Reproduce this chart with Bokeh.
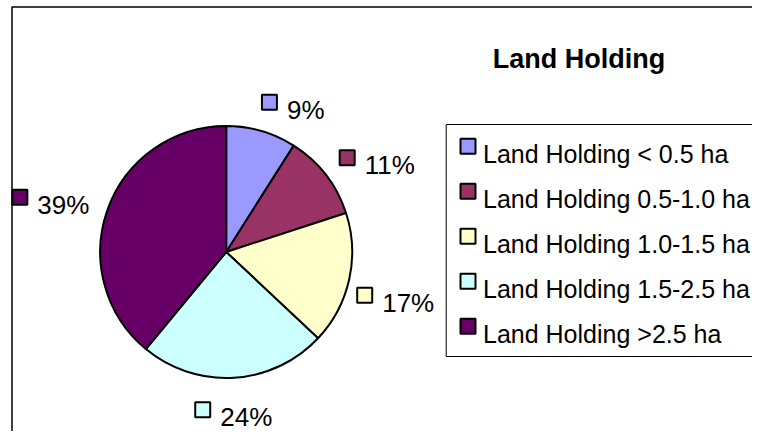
import math
from bokeh.plotting import figure
from bokeh.models import Range1d
from bokeh.embed import file_html
from bokeh.resources import INLINE
from bokeh.core.properties import value

# ---------------- data ----------------
title = "Land Holding"
categories = [
    "Land Holding < 0.5 ha",
    "Land Holding 0.5-1.0 ha",
    "Land Holding 1.0-1.5 ha",
    "Land Holding 1.5-2.5 ha",
    "Land Holding >2.5 ha",
]
shares = [9, 11, 17, 24, 39]
colors = ["#9999FF", "#993366", "#FFFFCC", "#CCFFFF", "#660066"]

# ---------------- layout (figure pixels, y measured downward) ----------------
W, H = 752, 431
FONT = "Liberation Sans"
FS = 26
LEG_FS = 25
CX, CY, R = 225.7, 251.5, 126.0
GAP = 17.0
SQ = 15.0
LABEL_TEXT_DX = 25.0
LABEL_NUDGE = [(22.2, 2.7), (10.9, 14.4), (-8.45, 3.2), (-2.6, 4.2), (-5.1, 6.2)]
LEG_LEFT, LEG_TOP, LEG_BOTTOM = 445.7, 124.0, 356.0
LEG_SQ_X, LEG_TEXT_X = 467.5, 482.5
LEG_BASE0, LEG_STEP = 153.3, 45.0
TITLE_X, TITLE_BASE = 578.5, 58.3
BORDER_X, BORDER_Y = 11.5, 6.5

CHAR_W = {**{str(d): 0.556 for d in range(10)}, "%": 0.889}


def Y(y):
    return H - y


p = figure(width=W, height=H, output_backend="svg", toolbar_location=None,
           x_range=Range1d(0, W), y_range=Range1d(0, H),
           min_border=0, min_border_left=0, min_border_right=0,
           min_border_top=0, min_border_bottom=0)
p.axis.visible = False
p.grid.visible = False
p.outline_line_color = None
p.background_fill_color = "white"
p.border_fill_color = "white"

# chart border (left + top visible, rest cropped in reference)
p.line(x=[BORDER_X, BORDER_X, W + 10], y=[-10, Y(BORDER_Y), Y(BORDER_Y)],
       line_color="black", line_width=1.5)

# pie
total = float(sum(shares))
cum = [0.0]
for s in shares:
    cum.append(cum[-1] + s / total)
starts = [math.pi / 2 - 2 * math.pi * c for c in cum[:-1]]
ends = [math.pi / 2 - 2 * math.pi * c for c in cum[1:]]
p.wedge(x=CX, y=Y(CY), radius=R, start_angle=starts, end_angle=ends,
        direction="clock", fill_color=colors, line_color="black", line_width=2)

# data labels
lab_texts = [f"{s}%" for s in shares]
sq_x, sq_y, tx, ty = [], [], [], []
for i, s in enumerate(shares):
    mid = 2 * math.pi * (cum[i] + cum[i + 1]) / 2
    sn, cs = math.sin(mid), math.cos(mid)
    tw = sum(CHAR_W[c] for c in lab_texts[i]) * 25.5
    w = LABEL_TEXT_DX + tw
    h = 16.0
    dist = R + GAP + abs(sn) * w / 2 + abs(cs) * h / 2
    cx = CX + dist * sn
    cy = CY - dist * cs
    left = cx - w / 2 + LABEL_NUDGE[i][0]
    base = cy + h / 2 + LABEL_NUDGE[i][1]
    sq_x.append(left + SQ / 2)
    sq_y.append(Y(base - SQ / 2))
    tx.append(left + LABEL_TEXT_DX)
    ty.append(Y(base))

p.rect(x=sq_x, y=sq_y, width=SQ, height=SQ, fill_color=colors,
       line_color="black", line_width=2)
p.text(x=tx, y=ty, text=lab_texts, text_font=value(FONT),
       text_font_size=value(f"{FS}px"), text_baseline="alphabetic",
       text_align="left", text_color="black")

# legend box
p.quad(left=LEG_LEFT, right=W + 20, top=Y(LEG_TOP), bottom=Y(LEG_BOTTOM),
       fill_color="white", line_color="black", line_width=1)
leg_base = [LEG_BASE0 + LEG_STEP * i for i in range(len(categories))]
p.rect(x=[LEG_SQ_X] * len(categories), y=[Y(b - SQ / 2) for b in leg_base],
       width=SQ, height=SQ, fill_color=colors, line_color="black", line_width=2)
p.text(x=[LEG_TEXT_X] * len(categories), y=[Y(b) for b in leg_base],
       text=categories, text_font=value(FONT), text_font_size=value(f"{LEG_FS}px"),
       text_baseline="alphabetic", text_align="left", text_color="black")

# title
p.text(x=[TITLE_X], y=[Y(TITLE_BASE)], text=[title], text_font=value(FONT),
       text_font_size=value("27px"), text_font_style="bold",
       text_baseline="alphabetic", text_align="center", text_color="black")

open("out.html", "w").write(file_html(p, INLINE))
